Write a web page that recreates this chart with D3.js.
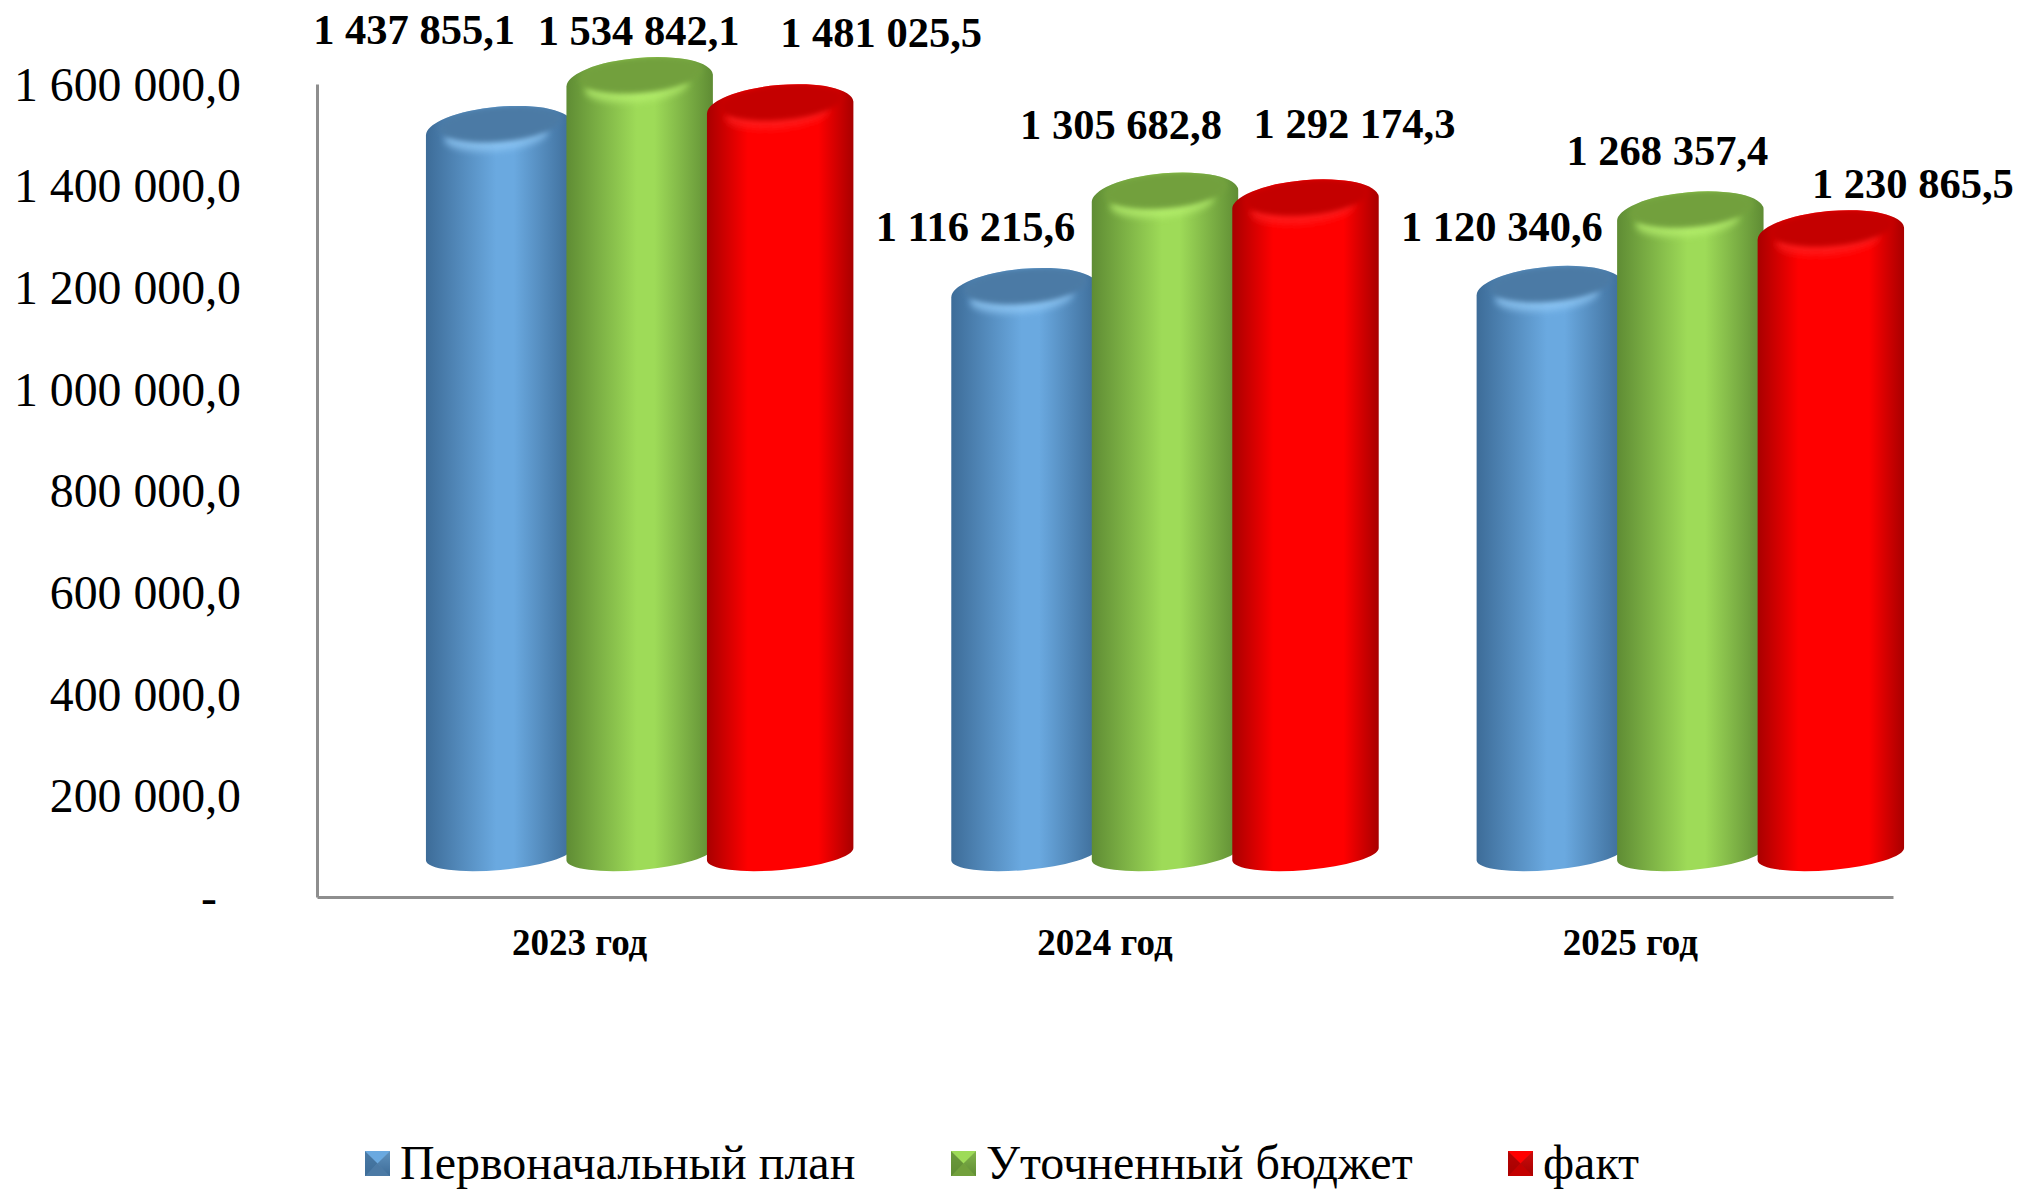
<!DOCTYPE html>
<html>
<head>
<meta charset="utf-8">
<script src="https://cdn.jsdelivr.net/npm/d3@7"></script>
<style>
  html, body { margin: 0; padding: 0; background: #fff; }
  svg { display: block; }
  text { font-family: "Liberation Serif", serif; fill: #000; }
</style>
</head>
<body>
<div id="vis"></div>
<script>
// Data
var years = ['2023 год', '2024 год', '2025 год'];
var seriesNames = ['Первоначальный план', 'Уточненный бюджет', 'факт'];
var planValues = [1437855.1, 1116215.6, 1120340.6];
var budgetValues = [1534842.1, 1305682.8, 1268357.4];
var factValues = [1481025.5, 1292174.3, 1230865.5];
var yTicks = [0, 200000, 400000, 600000, 800000, 1000000, 1200000, 1400000, 1600000];

// Colours per series: side edge, side centre, top face, highlight
var edgeColors = ['#3d6c98', '#5f8c34', '#a80000'];
var midColors = ['#6aa9e0', '#9edb58', '#ff0000'];
var topColors = ['#4c7aa5', '#72a03c', '#c40000'];
var glowColors = ['#93cbf8', '#b8f270', '#ff2020'];

// Where each side gradient reaches its lit part
var litStart = ['48%', '48%', '28%'];
var litEnd = ['60%', '60%', '76%'];

// Hand placed label offsets from the top of each bar (series, then year)
var labelShiftX = [[-85, -49, -48], [-1, -44, -23], [101, 49, 82]];
var labelShiftY = [[-99, -64, -62], [-49, -71, -64], [-75, -79, -50]];

var width = 2020;
var height = 1189;
var axisLeft = 317;
var axisRight = 1893;
var axisTop = 84;
var axisBottom = 897;

// Constants for the fake 3D cylinders
var depthX = 60;
var barStep = 140.5;
var rx = 73.5;
var ry = 23;
var baseRy = 16;
var tilt = 5;

var svg = d3.select('#vis').append('svg')
    .attr('width', width)
    .attr('height', height);

var x = d3.scaleBand().domain(years).range([axisLeft, axisRight]);
var xSeries = d3.scalePoint().domain(seriesNames).range([-barStep, barStep]);
var y = d3.scaleLinear().domain([0, 1600000]).range([axisBottom, axisTop]);
// the cylinders stand further back in the box, so they have their own scale
var yBar = d3.scaleLinear().domain([0, 1600000]).range([854, 48]);

var locale = d3.formatLocale({ decimal: ',', thousands: ' ', grouping: [3], currency: ['', ''] });
var fmt = locale.format(',.1f');

var defs = svg.append('defs');
seriesNames.forEach(function (name, i) {
    var grad = defs.append('linearGradient').attr('id', 'side' + i);
    grad.append('stop').attr('offset', '0%').attr('stop-color', edgeColors[i]);
    grad.append('stop').attr('offset', litStart[i]).attr('stop-color', midColors[i]);
    grad.append('stop').attr('offset', litEnd[i]).attr('stop-color', midColors[i]);
    grad.append('stop').attr('offset', '100%').attr('stop-color', edgeColors[i]);

    var swatch = defs.append('linearGradient').attr('id', 'swatch' + i)
        .attr('x1', 0).attr('y1', 0).attr('x2', 0).attr('y2', 1);
    swatch.append('stop').attr('offset', '0%').attr('stop-color', glowColors[i]);
    swatch.append('stop').attr('offset', '100%').attr('stop-color', edgeColors[i]);
});
defs.append('filter').attr('id', 'soft')
    .attr('x', '-20%').attr('y', '-50%').attr('width', '140%').attr('height', '200%')
    .append('feGaussianBlur').attr('stdDeviation', 2.5);
defs.append('filter').attr('id', 'softer')
    .attr('x', '-20%').attr('y', '-80%').attr('width', '140%').attr('height', '260%')
    .append('feGaussianBlur').attr('stdDeviation', 3.5);

// Axes
var yAxis = d3.axisLeft(y)
    .tickValues(yTicks)
    .tickSize(0)
    .tickPadding(76)
    .tickFormat(function (d) { return d === 0 ? '-' : fmt(d); });

var yG = svg.append('g')
    .attr('transform', 'translate(' + axisLeft + ',0)')
    .call(yAxis);
yG.select('.domain').attr('stroke', '#8e8e8e').attr('stroke-width', 3);
yG.selectAll('text')
    .style('font-size', '47.8px')
    .attr('dy', '0.34em')
    .attr('dx', function (d) { return d === 0 ? -24 : 0; });

var xAxis = d3.axisBottom(x).tickSize(0).tickPadding(32);
var xG = svg.append('g')
    .attr('transform', 'translate(0,' + axisBottom + ')')
    .call(xAxis);
xG.select('.domain').attr('stroke', '#8e8e8e').attr('stroke-width', 3);
xG.selectAll('text')
    .style('font-size', '37px')
    .style('font-weight', 'bold');

// Build the table of marks from the series arrays
var valueLists = [planValues, budgetValues, factValues];
var bars = [];
years.forEach(function (year, yi) {
    seriesNames.forEach(function (name, si) {
        bars.push({ year: year, yi: yi, name: name, si: si, value: valueLists[si][yi] });
    });
});

function barX(d) { return x(d.year) + x.bandwidth() / 2 + depthX + xSeries(d.name); }

function sidePath(d) {
    var cx = barX(d);
    var top = yBar(d.value);
    var base = yBar(0);
    var a = tilt * Math.PI / 180;
    var ex = rx * Math.cos(a);
    var ey = rx * Math.sin(a);
    return 'M' + (cx - ex) + ' ' + (top + ey) +
        'L' + (cx - ex) + ' ' + (base + ey) +
        'A' + rx + ' ' + baseRy + ' ' + (-tilt) + ' 0 0 ' + (cx + ex) + ' ' + (base - ey) +
        'L' + (cx + ex) + ' ' + (top - ey) +
        'A' + rx + ' ' + ry + ' ' + (-tilt) + ' 0 0 ' + (cx - ex) + ' ' + (top + ey) + 'Z';
}

var barG = svg.append('g').selectAll('g')
    .data(bars)
    .enter().append('g');

barG.append('path')
    .attr('d', sidePath)
    .attr('fill', function (d) { return 'url(#side' + d.si + ')'; });

// lit rim along the front of the top face
barG.append('ellipse')
    .attr('rx', rx - 22)
    .attr('ry', 15)
    .attr('opacity', 0.75)
    .attr('transform', function (d) {
        return 'translate(' + (barX(d) - 3) + ',' + (yBar(d.value) + 6) + ') rotate(' + (-tilt) + ')';
    })
    .attr('fill', function (d) { return glowColors[d.si]; })
    .attr('filter', 'url(#softer)');

// darker top face
barG.append('clipPath')
    .attr('id', function (d) { return 'clip' + d.yi + d.si; })
    .append('ellipse')
    .attr('rx', rx)
    .attr('ry', ry)
    .attr('transform', function (d) {
        return 'translate(' + barX(d) + ',' + yBar(d.value) + ') rotate(' + (-tilt) + ')';
    });

barG.append('g')
    .attr('clip-path', function (d) { return 'url(#clip' + d.yi + d.si + ')'; })
    .append('ellipse')
    .attr('rx', rx - 12)
    .attr('ry', ry - 5)
    .attr('transform', function (d) {
        return 'translate(' + (barX(d) + 1) + ',' + (yBar(d.value) - 6) + ') rotate(' + (-tilt) + ')';
    })
    .attr('fill', function (d) { return topColors[d.si]; })
    .attr('filter', 'url(#soft)');

// Value labels
svg.append('g').selectAll('text')
    .data(bars)
    .enter().append('text')
    .attr('x', function (d) { return barX(d) + labelShiftX[d.si][d.yi]; })
    .attr('y', function (d) { return yBar(d.value) + labelShiftY[d.si][d.yi]; })
    .attr('text-anchor', 'middle')
    .attr('dy', '0.32em')
    .style('font-size', '42.5px')
    .style('font-weight', 'bold')
    .text(function (d) { return fmt(d.value); });

// Legend
var legendX = [365, 951, 1508];
var swatchSize = 25;
var legend = svg.append('g').selectAll('g')
    .data(seriesNames)
    .enter().append('g')
    .attr('transform', function (d, i) { return 'translate(' + legendX[i] + ',1151)'; });

function facet(pts) {
    return 'M' + pts.map(function (p) { return p.join(' '); }).join('L') + 'Z';
}
var s = swatchSize;
var m = s / 2;
legend.append('rect')
    .attr('width', s).attr('height', s)
    .attr('fill', function (d, i) { return 'url(#swatch' + i + ')'; });
legend.append('path')
    .attr('d', facet([[0, 0], [s, 0], [m, m]]))
    .attr('fill', function (d, i) { return midColors[i]; });
legend.append('path')
    .attr('d', facet([[0, s], [s, s], [m, m]]))
    .attr('fill', function (d, i) { return topColors[i]; });
legend.append('path')
    .attr('d', facet([[0, 0], [0, s], [m, m]]))
    .attr('fill', function (d, i) { return edgeColors[i]; })
    .attr('opacity', 0.85);
legend.append('path')
    .attr('d', facet([[s, 0], [s, s], [m, m]]))
    .attr('fill', function (d, i) { return edgeColors[i]; })
    .attr('opacity', 0.6);
legend.append('text')
    .attr('x', 35)
    .attr('y', 28)
    .style('font-size', '48px')
    .text(function (d) { return d; });
</script>
</body>
</html>
